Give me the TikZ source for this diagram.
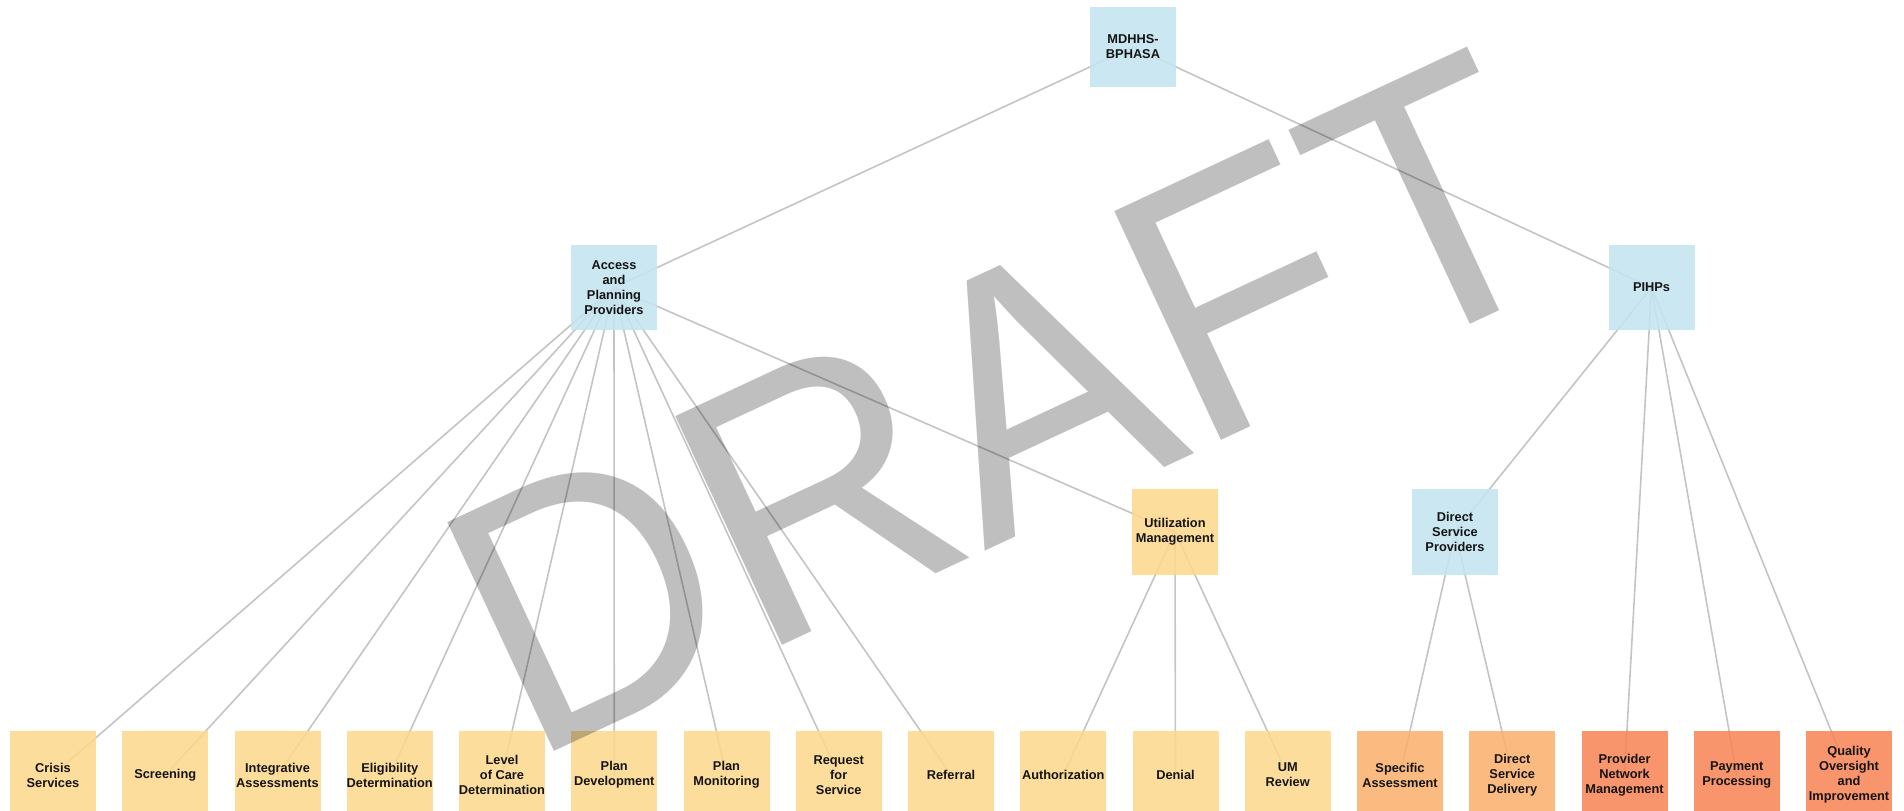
\documentclass[tikz,border=0pt]{standalone}
\usepackage{fontspec}
\setmainfont{Liberation Sans}
\definecolor{boxblue}{RGB}{196,228,240}
\definecolor{boxyellow}{RGB}{253,216,142}
\definecolor{boxorange}{RGB}{250,178,110}
\definecolor{boxcoral}{RGB}{248,134,88}
\definecolor{linkgray}{RGB}{196,196,196}
\definecolor{labelink}{RGB}{20,20,20}
\pgfdeclarelayer{links}
\pgfdeclarelayer{stamp}
\pgfsetlayers{links,main,stamp}
\tikzset{
  unit/.style={rectangle, minimum width=86pt, minimum height=86pt, inner sep=0pt,
    align=center, fill opacity=0.88, text opacity=1, text=labelink,
    font=\bfseries\fontsize{12.8}{15}\selectfont},
  bluebox/.style={unit, fill=boxblue},
  yellowbox/.style={unit, fill=boxyellow},
  orangebox/.style={unit, fill=boxorange},
  coralbox/.style={unit, fill=boxcoral},
  link/.style={draw=linkgray, line width=1.6pt},
}
\begin{document}
\begin{tikzpicture}[x=1pt, y=-1pt]
\useasboundingbox (0,0) rectangle (1904,811);
\clip (0,0) rectangle (1904,811);

% upper levels
\node[bluebox, minimum height=80pt] (root) at (1133,47) {MDHHS-\\BPHASA};
\node[bluebox, minimum height=85pt] (access) at (614,287.5) {Access\\and\\Planning\\Providers};
\node[bluebox, minimum height=85pt] (pihp) at (1651.5,287.5) {PIHPs};
\node[yellowbox] (um) at (1175,532) {Utilization\\Management};
\node[bluebox] (dsp) at (1455,532) {Direct\\Service\\Providers};

% bottom row
\node[yellowbox, minimum height=88pt] (crisis) at (53,775) {Crisis\\Services};
\node[yellowbox, minimum height=88pt] (screen) at (165.25,775) {Screening};
\node[yellowbox, minimum height=88pt] (integ) at (277.5,775) {Integrative\\Assessments};
\node[yellowbox, minimum height=88pt] (elig) at (389.75,775) {Eligibility\\Determination};
\node[yellowbox, minimum height=88pt] (loc) at (502,775) {Level\\of Care\\Determination};
\node[yellowbox, minimum height=88pt] (pdev) at (614.25,775) {Plan\\Development};
\node[yellowbox, minimum height=88pt] (pmon) at (726.5,775) {Plan\\Monitoring};
\node[yellowbox, minimum height=88pt] (req) at (838.75,775) {Request\\for\\Service};
\node[yellowbox, minimum height=88pt] (ref) at (951,775) {Referral};
\node[yellowbox, minimum height=88pt] (auth) at (1063.25,775) {Authorization};
\node[yellowbox, minimum height=88pt] (deny) at (1175.5,775) {Denial};
\node[yellowbox, minimum height=88pt] (umrev) at (1287.75,775) {UM\\Review};
\node[orangebox, minimum height=88pt] (spec) at (1400,775) {Specific\\Assessment};
\node[orangebox, minimum height=88pt] (dsd) at (1512.25,775) {Direct\\Service\\Delivery};
\node[coralbox, minimum height=88pt] (pnm) at (1624.5,775) {Provider\\Network\\Management};
\node[coralbox, minimum height=88pt] (pay) at (1736.75,775) {Payment\\Processing};
\node[coralbox, minimum height=88pt] (qual) at (1849,775) {Quality\\Oversight\\and\\Improvement};

% connectors, drawn beneath the boxes
\begin{pgfonlayer}{links}
  \draw[link] (root.center) -- (access.center);
  \draw[link] (root.center) -- (pihp.center);
  \foreach \t in {crisis,screen,integ,elig,loc,pdev,pmon,req,ref,um}
    \draw[link] (access.center) -- (\t.center);
  \foreach \t in {auth,deny,umrev}
    \draw[link] (um.center) -- (\t.center);
  \foreach \t in {dsp,pnm,pay,qual}
    \draw[link] (pihp.center) -- (\t.center);
  \foreach \t in {spec,dsd}
    \draw[link] (dsp.center) -- (\t.center);
\end{pgfonlayer}

% watermark
\begin{pgfonlayer}{stamp}
  \node[rotate=25, xscale=0.95, anchor=base west, inner sep=0pt, text=black, text opacity=0.25,
    font=\fontsize{367}{367}\selectfont] (stampword) at (528,764) {DRAFT};
\end{pgfonlayer}
\end{tikzpicture}
\end{document}
